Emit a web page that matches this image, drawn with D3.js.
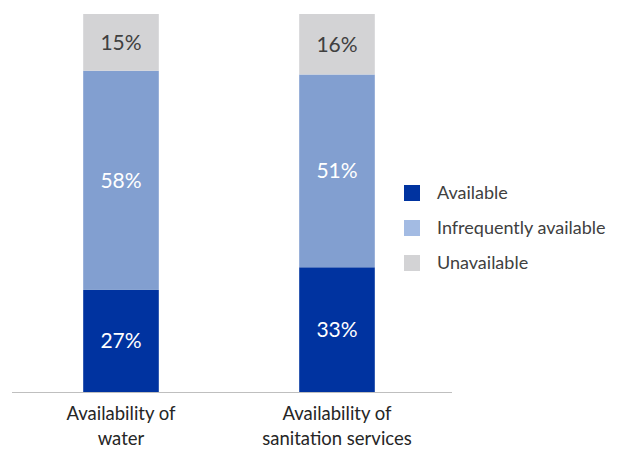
<!DOCTYPE html>
<html>
<head>
<meta charset="utf-8">
<script src="https://cdn.jsdelivr.net/npm/d3@7"></script>
<style>
  body { margin: 0; background: #fff; }
  text { font-family: Lato, "Open Sans", sans-serif; }
</style>
</head>
<body>
<div id="chart"></div>
<script>
const categories = [["Availability of", "water"], ["Availability of", "sanitation services"]];
const seriesNames = ["Available", "Infrequently available", "Unavailable"];
const available = [27, 33];
const infrequent = [58, 51];
const unavailable = [15, 16];

const barColors = ["#0033a0", "#829fd0", "#d3d3d5"];
const legendColors = ["#0033a0", "#a3bbe3", "#d3d3d5"];
const labelColors = ["#ffffff", "#ffffff", "#404040"];

const W = 623, H = 452;
const svg = d3.select("#chart").append("svg")
    .attr("width", W).attr("height", H);

const rows = categories.map((c, i) => ({
    key: i,
    Available: available[i],
    "Infrequently available": infrequent[i],
    Unavailable: unavailable[i]
}));
const stacked = d3.stack().keys(seriesNames)(rows);

const x = d3.scaleBand().domain(d3.range(categories.length))
    .range([13, 445]).paddingInner(0.65).paddingOuter(0.325);
const y = d3.scaleLinear().domain([0, 100]).range([392, 14]);

const layers = svg.append("g").selectAll("g")
    .data(stacked).join("g")
    .attr("fill", (d, i) => barColors[i]);

layers.selectAll("rect")
    .data(d => d)
    .join("rect")
    .attr("x", (d, i) => x(i))
    .attr("width", x.bandwidth())
    .attr("y", d => y(d[1]))
    .attr("height", d => y(d[0]) - y(d[1]));

layers.each(function (layer, li) {
    d3.select(this).selectAll("text")
        .data(layer)
        .join("text")
        .attr("x", (d, i) => x(i) + x.bandwidth() / 2)
        .attr("y", d => (y(d[0]) + y(d[1])) / 2)
        .attr("dy", "0.35em")
        .attr("text-anchor", "middle")
        .attr("font-size", 21)
        .attr("fill", labelColors[li])
        .text(d => (d[1] - d[0]) + "%");
});

// baseline
svg.append("line")
    .attr("x1", 12).attr("x2", 452)
    .attr("y1", y(0) + 0.5).attr("y2", y(0) + 0.5)
    .attr("stroke", "#bfbfbf").attr("stroke-width", 1);

// category labels
svg.append("g").selectAll("text")
    .data(categories).join("text")
    .attr("x", (d, i) => x(i) + x.bandwidth() / 2)
    .attr("y", 420)
    .attr("text-anchor", "middle")
    .attr("font-size", 18.5)
    .attr("fill", "#262626")
    .each(function (d) {
        d3.select(this).selectAll("tspan")
            .data(d).join("tspan")
            .attr("x", d3.select(this).attr("x"))
            .attr("dy", (t, j) => j === 0 ? 0 : 25)
            .text(t => t);
    });

// legend
const legend = svg.append("g").selectAll("g")
    .data(seriesNames).join("g")
    .attr("transform", (d, i) => `translate(404, ${185 + i * 35})`);
legend.append("rect")
    .attr("width", 16).attr("height", 16)
    .attr("fill", (d, i) => legendColors[i]);
legend.append("text")
    .attr("x", 33).attr("y", 8).attr("dy", "0.35em")
    .attr("font-size", 18)
    .attr("fill", "#404040")
    .text(d => d);
</script>
</body>
</html>
